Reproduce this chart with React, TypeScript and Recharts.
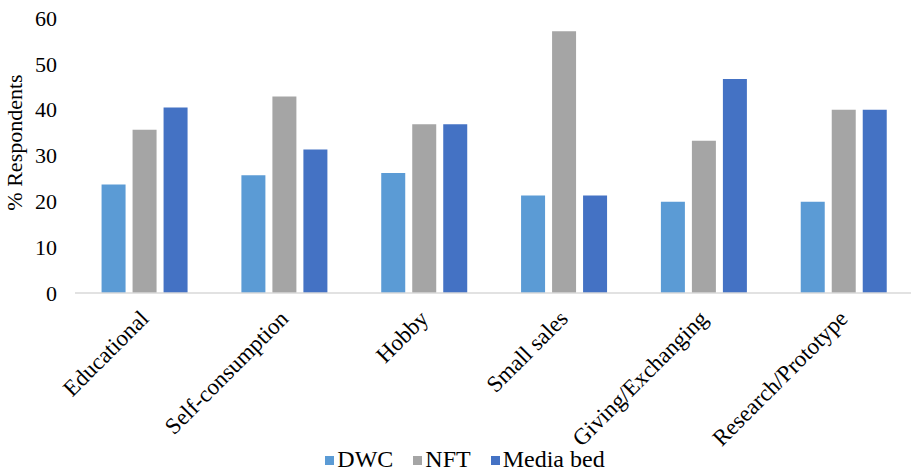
import React from "react";
import {
  BarChart,
  Bar,
  XAxis,
  YAxis,
  Legend,
} from "recharts";

const CATEGORIES = [
  "Educational",
  "Self-consumption",
  "Hobby",
  "Small sales",
  "Giving/Exchanging",
  "Research/Prototype",
];
const DWC = [23.7, 25.7, 26.2, 21.3, 19.9, 19.9];
const NFT = [35.6, 42.9, 36.8, 57.1, 33.2, 40.0];
const MEDIA_BED = [40.5, 31.3, 36.8, 21.3, 46.7, 40.0];
const Y_TICKS = [0, 10, 20, 30, 40, 50, 60];

const SERIES = [
  { key: "dwc", name: "DWC", color: "#5B9BD5" },
  { key: "nft", name: "NFT", color: "#A5A5A5" },
  { key: "media", name: "Media bed", color: "#4472C4" },
];

const FONT = "Liberation Serif, DejaVu Serif, Times New Roman, serif";

const data = CATEGORIES.map((c, i) => ({
  name: c,
  dwc: DWC[i],
  nft: NFT[i],
  media: MEDIA_BED[i],
}));

const XTick = ({ x, y, payload }: any) => (
  <g transform={`translate(${x + 5},${y + 19})`}>
    <text
      textAnchor="end"
      transform="rotate(-45)"
      style={{ fontFamily: FONT }}
      fontSize={23}
      fill="#000"
    >
      {payload.value}
    </text>
  </g>
);

const YLabel = ({ viewBox }: any) => {
  const cx = viewBox.x + 14;
  const cy = viewBox.y + viewBox.height / 2 - 13;
  return (
    <text
      x={cx}
      y={cy}
      transform={`rotate(-90 ${cx} ${cy})`}
      textAnchor="middle"
      dominantBaseline="central"
      style={{ fontFamily: FONT }}
      fontSize={22}
      fill="#000"
    >
      % Respondents
    </text>
  );
};

const LegendContent = () => (
  <div
    style={{
      display: "flex",
      justifyContent: "center",
      alignItems: "center",
      paddingLeft: 16,
      paddingTop: 4,
      fontFamily: FONT,
      fontSize: 24,
      lineHeight: "24px",
      color: "#000",
    }}
  >
    {SERIES.map((s, i) => (
      <span
        key={s.key}
        style={{
          display: "inline-flex",
          alignItems: "center",
          marginRight: i < SERIES.length - 1 ? 20 : 0,
        }}
      >
        <span
          style={{
            display: "inline-block",
            width: 9,
            height: 9,
            background: s.color,
            marginRight: 3,
            marginTop: 3,
          }}
        />
        {s.name}
      </span>
    ))}
  </div>
);

export default function App() {
  return (
    <div
      style={{
        position: "absolute",
        left: 0,
        top: 0,
        width: 911,
        height: 473,
        overflow: "hidden",
        background: "#fff",
      }}
    >
      <BarChart
        width={914}
        height={473}
        data={data}
        margin={{ top: 18, right: 0, bottom: 0, left: 0 }}
        barCategoryGap="19%"
        barGap={7}
      >
        <XAxis
          dataKey="name"
          axisLine={{ stroke: "#D9D9D9", strokeWidth: 1.5 }}
          tickLine={false}
          interval={0}
          height={150}
          tick={<XTick />}
        />
        <YAxis
          width={75}
          domain={[0, 60]}
          ticks={Y_TICKS}
          axisLine={false}
          tickLine={false}
          tickMargin={12}
          tick={{ fontFamily: FONT, fontSize: 22, fill: "#000" }}
          label={{ content: <YLabel /> }}
        />
        <Legend
          verticalAlign="bottom"
          height={30}
          content={<LegendContent />}
        />
        {SERIES.map((s) => (
          <Bar
            key={s.key}
            dataKey={s.key}
            name={s.name}
            fill={s.color}
            isAnimationActive={false}
          />
        ))}
      </BarChart>
    </div>
  );
}
